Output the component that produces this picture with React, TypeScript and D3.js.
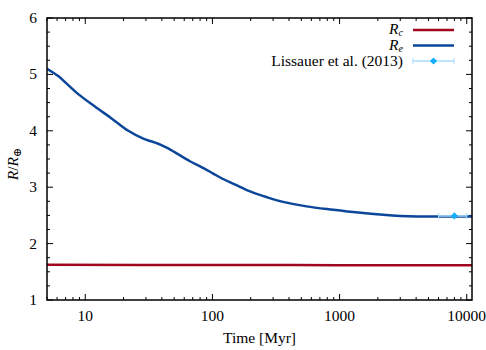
import React, { useRef, useEffect } from "react";
import * as d3 from "d3";

// Envelope radius R_e over time (Myr)
const timeMyr = [5, 6.13, 7.35, 8.81, 11.9, 16.1, 21.8, 28.6, 32.3, 37.5, 43.6, 52.3, 66.5, 80, 100, 120, 150, 200, 270, 360, 550, 891, 1400, 2203, 3000, 4027, 6000, 8000, 11000];
const reValues = [5.1, 4.97, 4.81, 4.65, 4.43, 4.22, 4.0, 3.86, 3.82, 3.77, 3.7, 3.6, 3.46, 3.37, 3.25, 3.15, 3.05, 2.92, 2.82, 2.74, 2.66, 2.6, 2.55, 2.51, 2.49, 2.48, 2.48, 2.48, 2.48];
// Core radius R_c
const rcTime = [5, 100, 1000, 11000];
const rcValues = [1.625, 1.62, 1.618, 1.615];
// Lissauer et al. (2013) observation
const obsTime = 8000;
const obsTimeLow = 6000;
const obsTimeHigh = 10000;
const obsRadius = 2.49;

const xTicks = [10, 100, 1000, 10000];
const yTicks = [1, 2, 3, 4, 5, 6];

const RED = "#a0061e";
const BLUE = "#0b469b";
const LIGHT = "#a8dcff";
const DIAMOND = "#14aeff";
const FONT = "'Liberation Serif', 'DejaVu Serif', serif";
const FS = 15.5;

const width = 486;
const height = 350;
const margin = { top: 18, right: 14, bottom: 50, left: 47 };

const App = () => {
  const svgRef = useRef<SVGSVGElement>(null);

  useEffect(() => {
    const svg = d3.select(svgRef.current);
    svg.selectAll("*").remove();

    const x = d3.scaleLog().domain([5, 11000]).range([margin.left, width - margin.right]);
    const y = d3.scaleLinear().domain([1, 6]).range([height - margin.bottom, margin.top]);
    const [x0, x1] = x.range();
    const [y0, y1] = y.range();

    // minor + major ticks, pointing inward, on all four sides
    const axes = svg.append("g").attr("stroke", "#000").attr("stroke-width", 1);
    const xMinor: number[] = [];
    for (let dec = 1; dec <= 10000; dec *= 10) {
      for (let m = 1; m < 10; m++) {
        const v = dec * m;
        if (v >= 5 && v <= 11000) xMinor.push(v);
      }
    }
    xMinor.forEach((v) => {
      const major = xTicks.includes(v);
      const len = major ? 6 : 3;
      axes.append("line").attr("x1", x(v)).attr("x2", x(v)).attr("y1", y0).attr("y2", y0 - len);
      axes.append("line").attr("x1", x(v)).attr("x2", x(v)).attr("y1", y1).attr("y2", y1 + len);
    });
    d3.range(1, 6.01, 0.25).forEach((v) => {
      const major = Math.abs(v - Math.round(v)) < 1e-6;
      const len = major ? 6 : 3;
      axes.append("line").attr("x1", x0).attr("x2", x0 + len).attr("y1", y(v)).attr("y2", y(v));
      axes.append("line").attr("x1", x1).attr("x2", x1 - len).attr("y1", y(v)).attr("y2", y(v));
    });

    const txt = svg.append("g").attr("font-family", FONT).attr("font-size", FS).attr("fill", "#000");
    xTicks.forEach((v) => {
      txt.append("text").attr("x", x(v)).attr("y", y0 + 21).attr("text-anchor", "middle").text(String(v));
    });
    yTicks.forEach((v) => {
      txt.append("text").attr("x", x0 - 10).attr("y", y(v) + 5).attr("text-anchor", "end").text(String(v));
    });
    txt.append("text").attr("x", (x0 + x1) / 2).attr("y", height - 7).attr("text-anchor", "middle").text("Time [Myr]");

    const yl = txt.append("text").attr("transform", `translate(18,${(y0 + y1) / 2 + 5}) rotate(-90)`).attr("text-anchor", "middle");
    yl.append("tspan").attr("font-style", "italic").text("R");
    yl.append("tspan").text("/");
    yl.append("tspan").attr("font-style", "italic").text("R");
    yl.append("tspan").attr("font-size", 11).attr("dy", 3).text("⊕");

    // clip to plot area
    svg.append("clipPath").attr("id", "plot").append("rect").attr("x", x0).attr("y", y1).attr("width", x1 - x0).attr("height", y0 - y1);
    const plot = svg.append("g").attr("clip-path", "url(#plot)");

    const line = d3.line().curve(d3.curveCatmullRom.alpha(0.5));

    plot.append("path")
      .datum(rcTime.map((t, i) => [x(t), y(rcValues[i])] as [number, number]))
      .attr("fill", "none").attr("stroke", RED).attr("stroke-width", 2.5)
      .attr("d", line as any);

    plot.append("path")
      .datum(timeMyr.map((t, i) => [x(t), y(reValues[i])] as [number, number]))
      .attr("fill", "none").attr("stroke", BLUE).attr("stroke-width", 2.5)
      .attr("d", line as any);

    // observation with x error bar
    const drawObs = (g: any, cx: number, cy: number, xl: number, xr: number) => {
      g.append("line").attr("x1", xl).attr("x2", xr).attr("y1", cy).attr("y2", cy).attr("stroke", LIGHT).attr("stroke-width", 1.5);
      [xl, xr].forEach((xx) => {
        g.append("line").attr("x1", xx).attr("x2", xx).attr("y1", cy - 3).attr("y2", cy + 3).attr("stroke", LIGHT).attr("stroke-width", 1);
      });
      g.append("path")
        .attr("d", d3.symbol().type(d3.symbolSquare).size(26)() as string)
        .attr("transform", `translate(${cx},${cy}) rotate(45)`)
        .attr("fill", DIAMOND);
    };
    drawObs(plot, x(obsTime), y(obsRadius), x(obsTimeLow), x(obsTimeHigh));

    // frame
    svg.append("rect").attr("x", x0).attr("y", y1).attr("width", x1 - x0).attr("height", y0 - y1)
      .attr("fill", "none").attr("stroke", "#000").attr("stroke-width", 1.5);

    // legend
    const lg = svg.append("g").attr("font-family", FONT).attr("font-size", FS);
    const lx0 = 413;
    const lx1 = 454;
    const tx = 403;
    const rows = [30, 45.5, 61];
    const addSub = (yy: number, sub: string) => {
      const t = lg.append("text").attr("x", tx).attr("y", yy + 4).attr("text-anchor", "end").attr("font-style", "italic");
      t.append("tspan").text("R");
      t.append("tspan").attr("font-size", 10).attr("dy", 2).text(sub);
    };
    addSub(rows[0], "c");
    lg.append("line").attr("x1", lx0).attr("x2", lx1).attr("y1", rows[0]).attr("y2", rows[0]).attr("stroke", RED).attr("stroke-width", 2.5);
    addSub(rows[1], "e");
    lg.append("line").attr("x1", lx0).attr("x2", lx1).attr("y1", rows[1]).attr("y2", rows[1]).attr("stroke", BLUE).attr("stroke-width", 2.5);
    lg.append("text").attr("x", tx).attr("y", rows[2] + 5).attr("text-anchor", "end").text("Lissauer et al. (2013)");
    drawObs(lg, (lx0 + lx1) / 2, rows[2], lx0, lx1);
  }, []);

  return (
    <svg ref={svgRef} width={width} height={height}
      style={{ position: "fixed", left: 0, top: 0, display: "block", background: "#fff" }} />
  );
};

export default App;
